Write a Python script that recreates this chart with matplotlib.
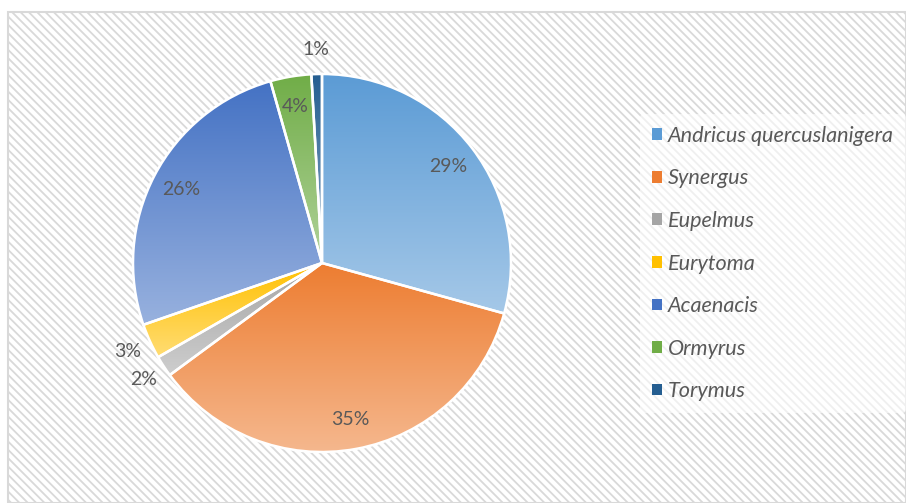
import numpy as np
import matplotlib
matplotlib.use("Agg")
import matplotlib.pyplot as plt
from matplotlib.patches import Rectangle, Patch
from matplotlib.colors import to_rgb

## Data
species = ["Andricus quercuslanigera", "Synergus", "Eupelmus", "Eurytoma",
           "Acaenacis", "Ormyrus", "Torymus"]
shares = [29.3, 35.6, 1.8, 3.0, 25.9, 3.5, 0.9]
pct_labels = ["29%", "35%", "2%", "3%", "26%", "4%", "1%"]
colors = ["#5B9BD5", "#ED7D31", "#A5A5A5", "#FFC000", "#4472C4", "#70AD47", "#255E91"]

W, H = 906, 503
cx, cy, R = 322, 503 - 263, 189
text_col = "#595959"
plt.rcParams["font.family"] = ["Lato", "DejaVu Sans"]

fig = plt.figure(figsize=(W / 100, H / 100), dpi=100)
fig.patch.set_facecolor("white")

## Hatched chart area with light border
plt.rcParams["hatch.color"] = "#E4E4E4"
plt.rcParams["hatch.linewidth"] = 1.3
bg = Rectangle((8 / W, 0), (W - 8) / W, (H - 12) / H, transform=fig.transFigure,
               facecolor="white", edgecolor="#D9D9D9", hatch="\\\\\\\\", lw=1.5, zorder=-5)
fig.patches.append(bg)

ax = fig.add_axes([0, 0, 1, 1])
ax.set_facecolor("none")

wedges, _ = ax.pie(shares, colors=colors, startangle=90, counterclock=False,
                   center=(cx, cy), radius=R,
                   wedgeprops=dict(edgecolor="white", linewidth=1.8))

## Vertical gradient in every slice: full colour on top, paler below
for w, c in zip(wedges, colors):
    base = np.array(to_rgb(c))
    light = base + (1 - base) * 0.45
    ext = w.get_path().get_extents()
    t = np.linspace(0, 1, 256)[:, None]
    grad = light[None, :] * (1 - t) + base[None, :] * t
    img = ax.imshow(grad[:, None, :], extent=(ext.x0, ext.x1, ext.y0, ext.y1),
                    origin="lower", aspect="auto", zorder=w.get_zorder() - 0.1)
    img.set_clip_path(w)
    w.set_facecolor("none")

## Percent labels
cum = np.cumsum([0] + shares[:-1])
for s, c0, lab in zip(shares, cum, pct_labels):
    ang = np.deg2rad((c0 + s / 2) / 100 * 360)
    d = 0.84 if s > 3.2 else 1.13
    ax.text(cx + d * R * np.sin(ang), cy + d * R * np.cos(ang), lab,
            ha="center", va="center", fontsize=14, color=text_col)

ax.set_xlim(0, W)
ax.set_ylim(0, H)
ax.set_aspect("equal")
ax.axis("off")

handles = [Patch(facecolor=c, edgecolor="none") for c in colors]
leg = ax.legend(handles, species, loc="upper left", bbox_to_anchor=(640 / W, 1 - 114 / H),
                frameon=True, fontsize=15.6, handlelength=0.45, handleheight=0.45,
                handletextpad=0.3, labelspacing=1.04, borderpad=0.55, borderaxespad=0)
leg.get_frame().set_facecolor("white")
leg.get_frame().set_edgecolor("none")
leg.get_frame().set_alpha(0.6)
for t in leg.get_texts():
    t.set_color(text_col)
    t.set_fontstyle("italic")

fig.savefig("out.png", dpi=100)
